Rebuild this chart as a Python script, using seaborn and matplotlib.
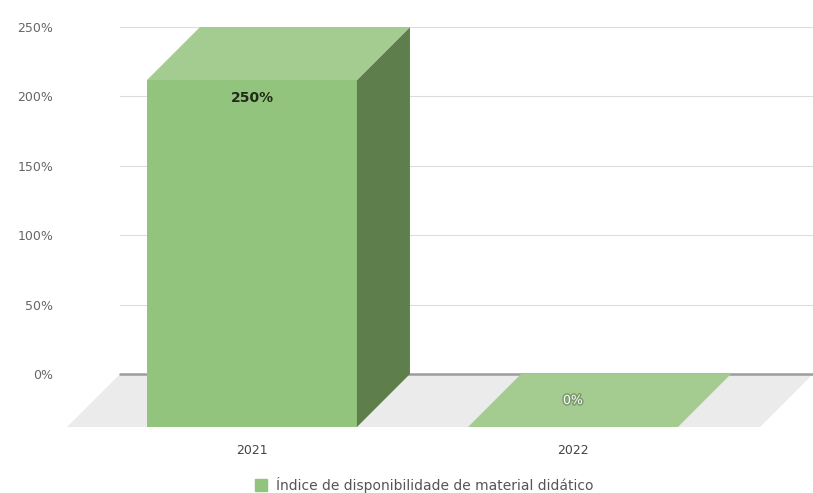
import matplotlib
matplotlib.use("Agg")
import matplotlib.pyplot as plt
import seaborn as sns
import pandas as pd
from matplotlib.patches import Polygon, Patch
import matplotlib.patheffects as pe

# ---- data ----
years = ["2021", "2022"]
values = [250, 0]
value_labels = ["250%", "0%"]
series_name = "Índice de disponibilidade de material didático"
y_ticks = [0, 50, 100, 150, 200, 250]
y_tick_labels = ["0%", "50%", "100%", "150%", "200%", "250%"]

# ---- style ----
FRONT = "#93c47d"
TOP = "#a5cc90"
SIDE = "#5e7f4b"
FLOOR = "#ebebeb"

sns.set_style("white")
plt.rcParams['font.family'] = ['DejaVu Sans']

W, H = 813, 493
fig = plt.figure(figsize=(W / 100, H / 100), dpi=100)
ax = fig.add_axes([120 / W, (H - 374) / H, (813 - 120) / W, 347 / H])

df = pd.DataFrame({"year": years, "value": values})
sns.barplot(data=df, x="year", y="value", color=FRONT, width=0.654,
            saturation=1, ax=ax, zorder=3)

xl, xr = -0.5763, 1.5826
ax.set_xlim(xl, xr)
ax.set_ylim(0, 250)

# depth offset (front face relative to back plane), in data units
px_x = (xr - xl) / (813 - 120)
px_y = 250 / 347
dx = -53 * px_x
dy = -53 * px_y

# floor
ax.add_patch(Polygon([(xl, 0), (xr, 0), (xr + dx, dy), (xl + dx, dy)],
                     closed=True, facecolor=FLOOR, edgecolor="none",
                     zorder=0.5, clip_on=False))

ax.yaxis.grid(True, color="#dcdcdc", lw=0.8)
ax.set_axisbelow(True)
ax.axhline(0, color="#9c9c9c", lw=1.8, zorder=1.5, clip_on=False)

bars = [p for p in ax.patches if p.get_zorder() == 3]
for i, p in enumerate(bars):
    x0, w, h = p.get_x(), p.get_width(), p.get_height()
    p.set_xy((x0 + dx, dy))
    p.set_clip_on(False)
    p.set_edgecolor("none")
    ax.add_patch(Polygon([(x0 + dx, h + dy), (x0 + w + dx, h + dy), (x0 + w, h), (x0, h)],
                         closed=True, facecolor=TOP, edgecolor="none",
                         zorder=3.2, clip_on=False))
    if h > 0:
        ax.add_patch(Polygon([(x0 + w + dx, dy), (x0 + w + dx, h + dy), (x0 + w, h), (x0 + w, 0)],
                             closed=True, facecolor=SIDE, edgecolor="none",
                             zorder=3.1, clip_on=False))
    cx = x0 + w / 2 + dx
    if h + dy > 30:
        ax.annotate(value_labels[i], xy=(cx, h + dy), xytext=(0, -13),
                    textcoords="offset points", ha="center", va="center",
                    fontsize=10, fontweight="bold", color="#1f2a18",
                    zorder=5, annotation_clip=False)
    else:
        ax.text(cx, h + dy / 2, value_labels[i], ha="center", va="center",
                fontsize=9, color="white", zorder=5,
                path_effects=[pe.withStroke(linewidth=2.2, foreground="#7d9a70")])

# axes decorations
for s in ax.spines.values():
    s.set_visible(False)
ax.set_yticks(y_ticks, y_tick_labels)
ax.tick_params(axis="y", length=0, pad=48, labelsize=9, labelcolor="#666666")
ax.set_xticks([])
ax.set_xlabel("")
ax.set_ylabel("")
for i, yr in enumerate(years):
    ax.text(i + dx, (374 - 451) / 347, yr, transform=ax.get_xaxis_transform(),
            ha="center", va="center", fontsize=9, color="#444444")

fig.legend(handles=[Patch(color=FRONT, label=series_name)], loc="center",
           bbox_to_anchor=(424 / W, 8 / H), frameon=False, fontsize=10,
           handlelength=0.9, handleheight=0.9, handletextpad=0.6,
           labelcolor="#555555", borderpad=0)

fig.savefig("out.png", dpi=100)
